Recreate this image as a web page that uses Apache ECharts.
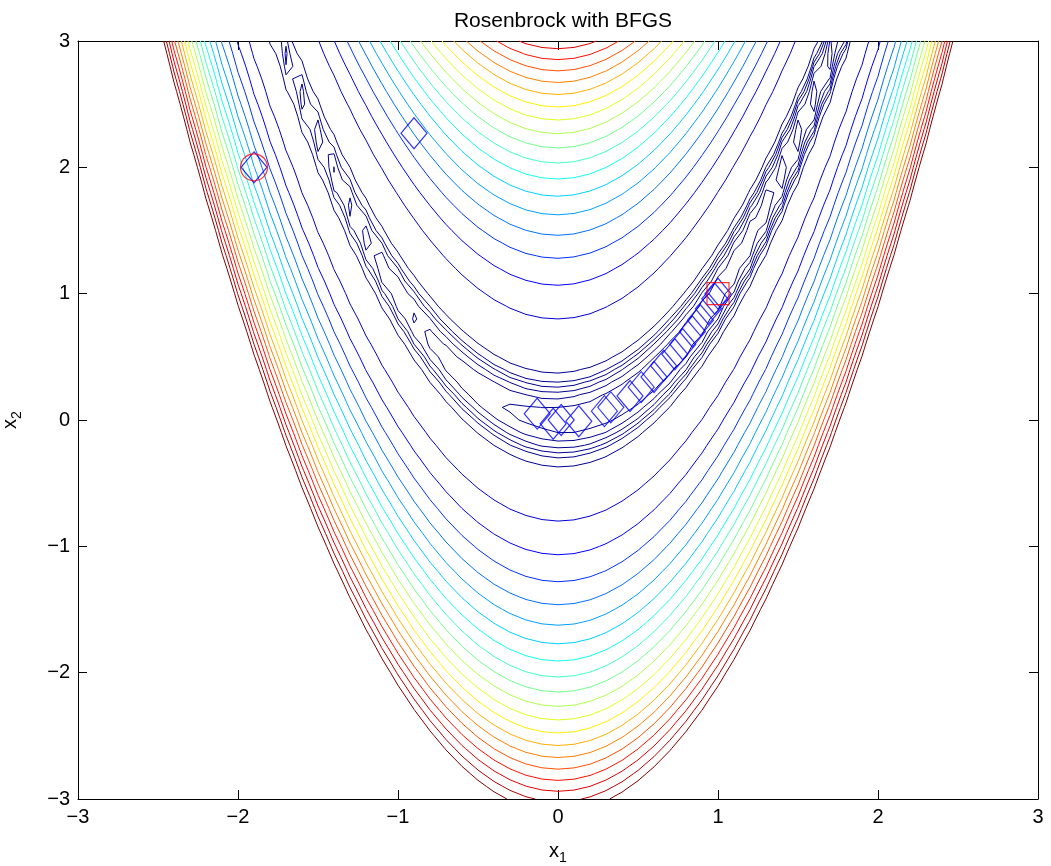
<!DOCTYPE html>
<html><head><meta charset="utf-8">
<script src="https://cdn.jsdelivr.net/npm/echarts@6/dist/echarts.min.js"></script>
<style>html,body{margin:0;padding:0;background:#fff}#c{width:1051px;height:866px}</style>
</head><body><div id="c"></div>
<script>
// ---- data ----
const chartTitle = 'Rosenbrock with BFGS';
const xTicks = [-3, -2, -1, 0, 1, 2, 3];
const yTicks = [-3, -2, -1, 0, 1, 2, 3];
// sampling grid of the contour plot (x1 and x2 from -3 to 3)
const gridMin = -3, gridMax = 3, gridStep = 0.1;
// contour levels
const innerLevels = [2, 4, 6, 8, 10];
const outerLevels = [15, 65, 115, 165, 215, 265, 315, 365, 415, 465, 515, 565, 615, 665, 715, 765, 815, 865, 915, 965];
// BFGS iterates
const pathX1 = [-1.9, -0.9, -0.13, -0.03, 0.02, 0.13, 0.29, 0.33, 0.45, 0.52, 0.60, 0.66, 0.73, 0.78, 0.84, 0.89, 0.94, 0.98, 1.0];
const pathX2 = [2.0, 2.27, 0.05, -0.03, 0.0, -0.01, 0.07, 0.10, 0.19, 0.26, 0.34, 0.43, 0.52, 0.60, 0.70, 0.79, 0.88, 0.96, 1.0];
const startPoint = [-1.9, 2.0];
const endPoint = [1.0, 1.0];

// ---- Rosenbrock function ----
function rosen(x1, x2) { return 100 * (x2 - x1 * x1) ** 2 + (1 - x1) ** 2; }

const N = Math.round((gridMax - gridMin) / gridStep) + 1;
const xs = [], ys = [];
for (let i = 0; i < N; i++) { const v = Math.round((gridMin + i * gridStep) * 1e9) / 1e9; xs.push(v); ys.push(v); }
const Z = [];
for (let j = 0; j < N; j++) { const row = []; for (let i = 0; i < N; i++) row.push(rosen(xs[i], ys[j])); Z.push(row); }

function contour(L) {
  const P = {}, adj = {};
  function hp(i, j) {
    const k = 'h' + i + '_' + j;
    if (!P[k]) { const v1 = Z[j][i], v2 = Z[j][i + 1]; const t = (L - v1) / (v2 - v1); P[k] = [xs[i] + t * (xs[i + 1] - xs[i]), ys[j]]; }
    return k;
  }
  function vp(i, j) {
    const k = 'v' + i + '_' + j;
    if (!P[k]) { const v1 = Z[j][i], v2 = Z[j + 1][i]; const t = (L - v1) / (v2 - v1); P[k] = [xs[i], ys[j] + t * (ys[j + 1] - ys[j])]; }
    return k;
  }
  function link(a, b) { (adj[a] = adj[a] || []).push(b); (adj[b] = adj[b] || []).push(a); }
  for (let j = 0; j < N - 1; j++) for (let i = 0; i < N - 1; i++) {
    const a = Z[j][i], b = Z[j][i + 1], c = Z[j + 1][i + 1], d = Z[j + 1][i];
    const A = a >= L, B = b >= L, C = c >= L, D = d >= L;
    const bottom = A !== B ? hp(i, j) : null;
    const right = B !== C ? vp(i + 1, j) : null;
    const top = C !== D ? hp(i, j + 1) : null;
    const left = D !== A ? vp(i, j) : null;
    const list = [bottom, right, top, left].filter(v => v !== null);
    if (list.length === 2) link(list[0], list[1]);
    else if (list.length === 4) {
      const cen = (a + b + c + d) / 4 >= L;
      if (cen === A) { link(bottom, right); link(top, left); }
      else { link(left, bottom); link(right, top); }
    }
  }
  const visited = new Set(); const out = [];
  function walk(s) {
    const path = [P[s]]; visited.add(s);
    let cur = s, prev = null;
    while (true) {
      let next = null;
      for (const n of adj[cur]) { if (n !== prev && !visited.has(n)) { next = n; break; } }
      if (next === null) { if (adj[cur].includes(s) && path.length > 2) path.push(P[s]); break; }
      path.push(P[next]); visited.add(next); prev = cur; cur = next;
    }
    out.push(path);
  }
  const keys = Object.keys(adj);
  keys.forEach(k => { if (!visited.has(k) && adj[k].length === 1) walk(k); });
  keys.forEach(k => { if (!visited.has(k)) walk(k); });
  return out;
}

// MATLAB jet(64)
function jet(m) {
  const n = Math.ceil(m / 4);
  const u = [];
  for (let k = 1; k <= n; k++) u.push(k / n);
  for (let k = 1; k < n; k++) u.push(1);
  for (let k = n; k >= 1; k--) u.push(k / n);
  const g0 = Math.ceil(n / 2) - (m % 4 === 1 ? 1 : 0);
  const J = []; for (let i = 0; i < m; i++) J.push([0, 0, 0]);
  for (let k = 0; k < u.length; k++) {
    const g = g0 + k + 1, r = g + n, b = g - n;
    if (r >= 1 && r <= m) J[r - 1][0] = u[k];
    if (g >= 1 && g <= m) J[g - 1][1] = u[k];
    if (b >= 1 && b <= m) J[b - 1][2] = u[k];
  }
  return J;
}
const cmap = jet(64);
const levels = innerLevels.concat(outerLevels);
const Lmin = Math.min(...levels), Lmax = Math.max(...levels);
function levelColor(L) {
  let idx = Math.floor((L - Lmin) / (Lmax - Lmin) * 64); if (idx > 63) idx = 63; if (idx < 0) idx = 0;
  const c = cmap[idx];
  return 'rgb(' + c.map(v => Math.round(v * 255)).join(',') + ')';
}

const series = [];
levels.forEach(L => {
  const lines = contour(L);
  series.push({
    type: 'lines', coordinateSystem: 'cartesian2d', polyline: true, silent: true, animation: false,
    data: lines.map(c => ({ coords: c })),
    lineStyle: { color: levelColor(L), width: 1, opacity: 1 }, z: 2
  });
});
series.push({
  type: 'scatter', data: pathX1.map((x, i) => [x, pathX2[i]]), symbol: 'diamond', symbolSize: [26, 31],
  itemStyle: { color: 'rgba(0,0,0,0)', borderColor: '#0000ff', borderWidth: 1.2 }, silent: true, animation: false, z: 5
});
series.push({
  type: 'scatter', data: [startPoint], symbol: 'circle', symbolSize: 27,
  itemStyle: { color: 'rgba(0,0,0,0)', borderColor: '#ff0000', borderWidth: 1.2 }, silent: true, animation: false, z: 6
});
series.push({
  type: 'scatter', data: [endPoint], symbol: 'rect', symbolSize: 22,
  itemStyle: { color: 'rgba(0,0,0,0)', borderColor: '#ff0000', borderWidth: 1.2 }, silent: true, animation: false, z: 6
});

const font = 'Liberation Sans, Arial, Helvetica, sans-serif';
const fmt = v => (v < 0 ? '\u2212' + Math.abs(v) : String(v));
const tickCommon = { inside: true, length: 9, lineStyle: { color: '#000', width: 1 } };
function axis(pos, ticks, showLabel, extra) {
  return Object.assign({
    type: 'value', position: pos, min: ticks[0], max: ticks[ticks.length - 1], interval: 1,
    axisLine: { show: true, onZero: false, lineStyle: { color: '#000', width: 1 } },
    axisTick: tickCommon, splitLine: { show: false },
    axisLabel: { show: showLabel, formatter: fmt, color: '#000', fontSize: 20, fontFamily: font, margin: 8 }
  }, extra || {});
}
const sub = { a: { fontSize: 20, fontFamily: font, color: '#000' }, b: { fontSize: 14, fontFamily: font, color: '#000', padding: [14, 0, 0, 0] } };

const chart = echarts.init(document.getElementById('c'), null, { renderer: 'canvas' });
chart.setOption({
  backgroundColor: '#fff',
  animation: false,
  title: { text: chartTitle, left: 558, top: 6, textAlign: 'center',
    textStyle: { fontSize: 21, fontWeight: 'normal', color: '#000', fontFamily: font } },
  grid: { left: 78, right: 13, top: 41, bottom: 67, containLabel: false, outerBoundsMode: 'none' },
  xAxis: [
    axis('bottom', xTicks, true, { name: '{a|x}{b|1}', nameLocation: 'middle', nameGap: 38, nameTextStyle: { rich: sub } }),
    axis('top', xTicks, false)
  ],
  yAxis: [
    axis('left', yTicks, true, { name: '{a|x}{b|2}', nameLocation: 'middle', nameGap: 54, nameRotate: 90, nameTextStyle: { rich: sub } }),
    axis('right', yTicks, false)
  ],
  series: series
});
</script>
</body></html>
